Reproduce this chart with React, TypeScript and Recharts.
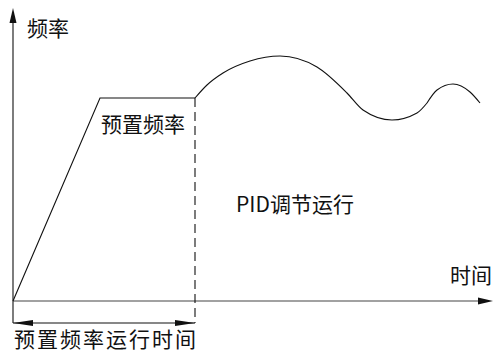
import { ComposedChart, Line, Scatter, XAxis, YAxis, ReferenceLine, ReferenceDot } from 'recharts'

// schematic units: time t along x, frequency f along y
const RAMP_T = [0, 87, 182]
const RAMP_F = [0, 203, 203]
const WAVE_T = [182, 194, 210, 237, 267, 304, 334, 350, 379, 404, 414]
const WAVE_F = [203, 216, 228, 240, 245, 234, 208, 191, 181, 188, 198]
const BUMP_T = [414, 424, 440, 457, 467]
const BUMP_F = [198, 211, 217, 209, 198]

const PRESET_END = 182
const DIM_Y = -22

const LABELS = [
  { t: 35, f: 272, text: '频率', size: 21, spacing: 0 },
  { t: 458, f: 25, text: '时间', size: 21, spacing: 0 },
  { t: 130, f: 176, text: '预置频率', size: 21, spacing: 0 },
  { t: 282, f: 96, text: 'PID调节运行', size: 21, spacing: 0 },
  { t: 93, f: -39, text: '预置频率运行时间', size: 21, spacing: 2 },
]

const pts = (ts: number[], fs: number[]) => ts.map((t, i) => ({ t, f: fs[i] }))

const INK = '#111'
const FONT = '"Noto Sans CJK SC", "Noto Sans", sans-serif'

const UpArrow = (p: any) => (
  <polygon points={`${p.cx},${p.cy} ${p.cx - 3.5},${p.cy + 15} ${p.cx + 3.5},${p.cy + 15}`} fill={INK} />
)
const RightArrow = (p: any) => (
  <polygon points={`${p.cx},${p.cy} ${p.cx - 15},${p.cy - 3.5} ${p.cx - 15},${p.cy + 3.5}`} fill={INK} />
)
const LeftTip = (p: any) => (
  <polygon points={`${p.cx},${p.cy} ${p.cx + 20},${p.cy - 3} ${p.cx + 20},${p.cy + 3}`} fill={INK} />
)
const RightTip = (p: any) => (
  <polygon points={`${p.cx},${p.cy} ${p.cx - 20},${p.cy - 3} ${p.cx - 20},${p.cy + 3}`} fill={INK} />
)

export default function App() {
  return (
    <div style={{ position: 'absolute', left: 0, top: 0, width: 494, height: 353, background: '#fff', fontFamily: FONT }}>
      <ComposedChart width={494} height={353} margin={{ top: 8, right: 1, bottom: 30, left: 13 }}>
        <XAxis type="number" dataKey="t" domain={[0, 480]} hide />
        <YAxis type="number" domain={[DIM_Y, 293]} hide />

        {/* axes */}
        <ReferenceLine segment={[{ x: 0, y: DIM_Y }, { x: 0, y: 282 }]} stroke={INK} strokeWidth={1.1} ifOverflow="visible" />
        <ReferenceLine segment={[{ x: 0, y: 0 }, { x: 470, y: 0 }]} stroke="#444" strokeWidth={1.2} ifOverflow="visible" />
        {/* preset end + dimension line */}
        <ReferenceLine segment={[{ x: PRESET_END, y: RAMP_F[2] }, { x: PRESET_END, y: DIM_Y }]}
          stroke={INK} strokeWidth={1.1} strokeDasharray="9 5" ifOverflow="visible" />
        <ReferenceLine segment={[{ x: 0, y: DIM_Y }, { x: PRESET_END, y: DIM_Y }]} stroke={INK} strokeWidth={1.1} ifOverflow="visible" />

        <Line data={pts(RAMP_T, RAMP_F)} dataKey="f" type="linear" stroke={INK} strokeWidth={1.1} dot={false} isAnimationActive={false} />
        <Line data={pts(WAVE_T, WAVE_F)} dataKey="f" type="monotone" stroke={INK} strokeWidth={1.1} dot={false} isAnimationActive={false} />
        <Line data={pts(BUMP_T, BUMP_F)} dataKey="f" type="monotone" stroke={INK} strokeWidth={1.1} dot={false} isAnimationActive={false} />

        <Scatter data={[{ t: 0, f: 293 }]} dataKey="f" shape={UpArrow} isAnimationActive={false} />
        <Scatter data={[{ t: 480, f: 0 }]} dataKey="f" shape={RightArrow} isAnimationActive={false} />
        <Scatter data={[{ t: 0, f: DIM_Y }]} dataKey="f" shape={LeftTip} isAnimationActive={false} />
        <Scatter data={[{ t: PRESET_END, f: DIM_Y }]} dataKey="f" shape={RightTip} isAnimationActive={false} />

        {LABELS.map(l => (
          <ReferenceDot key={l.text} x={l.t} y={l.f} r={0} fill="none" stroke="none" ifOverflow="visible"
            label={{ value: l.text, position: 'center', fontSize: l.size, fill: INK, fontFamily: FONT, letterSpacing: l.spacing }} />
        ))}
      </ComposedChart>
    </div>
  )
}
